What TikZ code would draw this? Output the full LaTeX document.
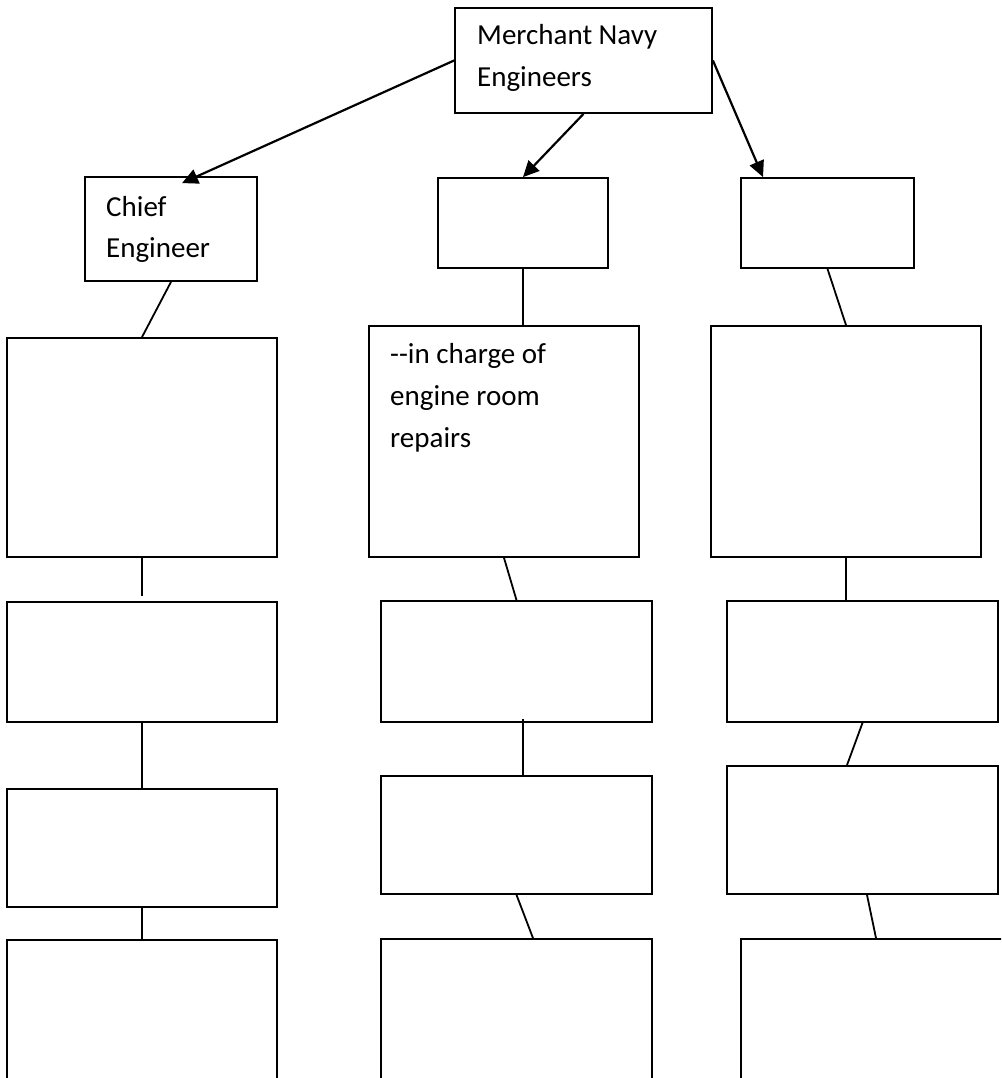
\documentclass[tikz,border=0pt]{standalone}
\usepackage{fontspec}
\setmainfont{Carlito}
\usetikzlibrary{arrows.meta}
\tikzset{
  box/.style={draw=black, line width=1.8pt, inner sep=0pt, fill=white},
  ln/.style={draw=black, line width=1.8pt},
  arr/.style={draw=black, line width=2.2pt, -{Triangle[length=16pt,width=15pt]}},
  txt/.style={anchor=base west, inner sep=0pt, font=\fontsize{29}{35}\selectfont}
}
\begin{document}
\begin{tikzpicture}[x=1pt, y=-1pt]
\clip (0,0) rectangle (1001,1078);
\fill[white] (0,0) rectangle (1001,1078);
% boxes
\node[box, minimum width=257pt, minimum height=105pt] (top) at (583.5,60.5) {};
\node[box, minimum width=172pt, minimum height=104pt] (chief) at (171,229) {};
\node[box, minimum width=170pt, minimum height=90pt] (M2) at (523,223) {};
\node[box, minimum width=173pt, minimum height=90pt] (R2) at (827.5,223) {};
\node[box, minimum width=270pt, minimum height=219pt] (L3) at (142,447.5) {};
\node[box, minimum width=270pt, minimum height=231pt] (M3) at (504,441.5) {};
\node[box, minimum width=270pt, minimum height=231pt] (R3) at (846,441.5) {};
\node[box, minimum width=270pt, minimum height=120pt] (L4) at (142,662) {};
\node[box, minimum width=271pt, minimum height=121pt] (M4) at (516.5,661.5) {};
\node[box, minimum width=271pt, minimum height=121pt] (R4) at (862.5,661.5) {};
\node[box, minimum width=270pt, minimum height=118pt] (L5) at (142,848) {};
\node[box, minimum width=271pt, minimum height=118pt] (M5) at (516.5,835) {};
\node[box, minimum width=271pt, minimum height=128pt] (R5) at (862.5,830) {};
\node[box, minimum width=270pt, minimum height=160pt] (L6) at (142,1020) {};
\node[box, minimum width=271pt, minimum height=161pt] (M6) at (516.5,1019.5) {};
\node[box, minimum width=270pt, minimum height=161pt] (R6) at (876,1019.5) {};
% texts
\node[txt] (t1) at (477,45) {Merchant Navy};
\node[txt] (t2) at (477,87) {Engineers};
\node[txt] (t3) at (106,216) {Chief};
\node[txt] (t4) at (106,257) {Engineer};
\node[txt] (t5) at (390,363) {-{}-in charge of};
\node[txt] (t6) at (390,405) {engine room};
\node[txt] (t7) at (390,447) {repairs};
% arrows
\draw[arr] (top.west) -- ([shift={(11,7)}]chief.north);
\draw[arr] (top.south) -- (M2.north);
\draw[arr] (top.east) -- ([shift={(-64.5,0)}]R2.north);
% connectors
\draw[ln] (chief.south) -- (L3.north);
\draw[ln] (L3.south) -- ([shift={(0,-5)}]L4.north);
\draw[ln] (L4.south) -- (L5.north);
\draw[ln] (L5.south) -- (L6.north);
\draw[ln] (M2.south) -- (M2.south |- M3.north);
\draw[ln] (M3.south) -- (M4.north);
\draw[ln] ([shift={(6.5,-4)}]M4.south) -- ([shift={(6.5,0)}]M5.north);
\draw[ln] (M5.south) -- ([shift={(16.5,0)}]M6.north);
\draw[ln] (R2.south) -- (R3.north);
\draw[ln] (R3.south) -- (R3.south |- R4.north);
\draw[ln] (R4.south) -- ([shift={(-15.5,0)}]R5.north);
\draw[ln] ([shift={(4.5,0)}]R5.south) -- (R6.north);
\end{tikzpicture}
\end{document}
